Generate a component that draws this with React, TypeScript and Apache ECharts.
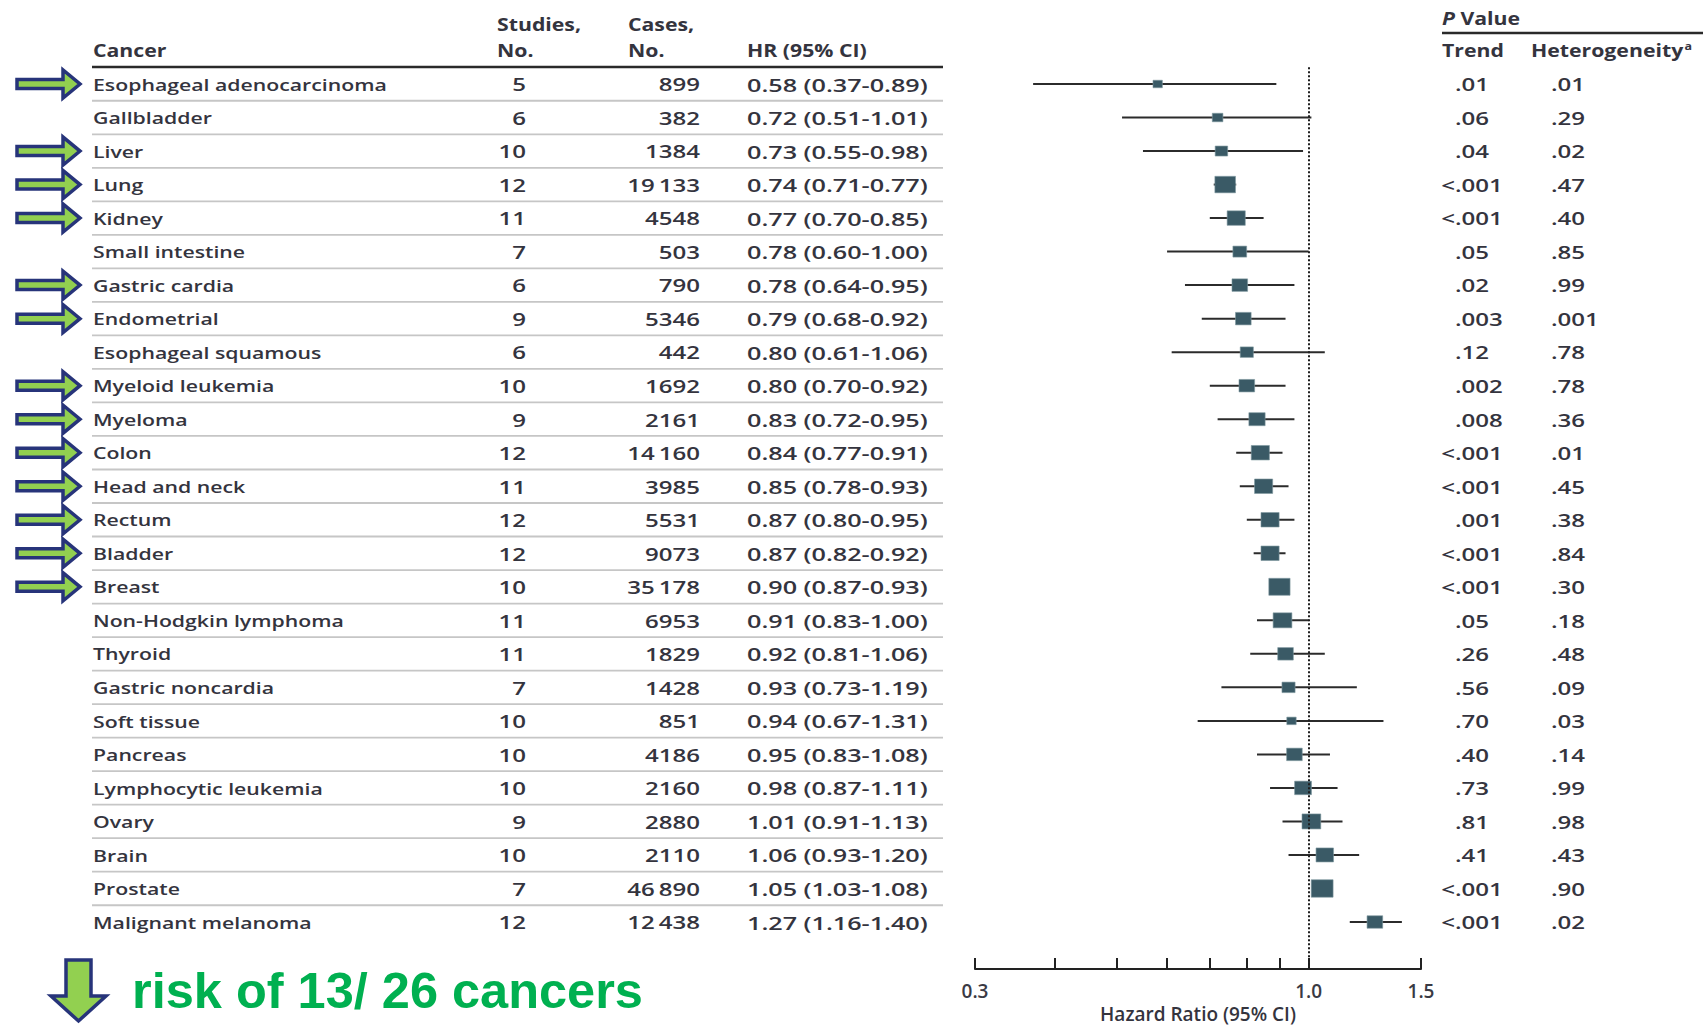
import React, { useEffect, useRef } from "react";
import * as echarts from "echarts";

// ---- data -------------------------------------------------------------
const cancers = [
  "Esophageal adenocarcinoma", "Gallbladder", "Liver", "Lung", "Kidney",
  "Small intestine", "Gastric cardia", "Endometrial", "Esophageal squamous",
  "Myeloid leukemia", "Myeloma", "Colon", "Head and neck", "Rectum", "Bladder",
  "Breast", "Non-Hodgkin lymphoma", "Thyroid", "Gastric noncardia", "Soft tissue",
  "Pancreas", "Lymphocytic leukemia", "Ovary", "Brain", "Prostate", "Malignant melanoma",
];
const studies = [5, 6, 10, 12, 11, 7, 6, 9, 6, 10, 9, 12, 11, 12, 12, 10, 11, 11, 7, 10, 10, 10, 9, 10, 7, 12];
const cases = [899, 382, 1384, 19133, 4548, 503, 790, 5346, 442, 1692, 2161, 14160, 3985, 5531, 9073, 35178, 6953, 1829, 1428, 851, 4186, 2160, 2880, 2110, 46890, 12438];
const hr = [0.58, 0.72, 0.73, 0.74, 0.77, 0.78, 0.78, 0.79, 0.80, 0.80, 0.83, 0.84, 0.85, 0.87, 0.87, 0.90, 0.91, 0.92, 0.93, 0.94, 0.95, 0.98, 1.01, 1.06, 1.05, 1.27];
const ciLow = [0.37, 0.51, 0.55, 0.71, 0.70, 0.60, 0.64, 0.68, 0.61, 0.70, 0.72, 0.77, 0.78, 0.80, 0.82, 0.87, 0.83, 0.81, 0.73, 0.67, 0.83, 0.87, 0.91, 0.93, 1.03, 1.16];
const ciHigh = [0.89, 1.01, 0.98, 0.77, 0.85, 1.00, 0.95, 0.92, 1.06, 0.92, 0.95, 0.91, 0.93, 0.95, 0.92, 0.93, 1.00, 1.06, 1.19, 1.31, 1.08, 1.11, 1.13, 1.20, 1.08, 1.40];
const pTrend = [".01", ".06", ".04", "<.001", "<.001", ".05", ".02", ".003", ".12", ".002", ".008", "<.001", "<.001", ".001", "<.001", "<.001", ".05", ".26", ".56", ".70", ".40", ".73", ".81", ".41", "<.001", "<.001"];
const pHeterogeneity = [".01", ".29", ".02", ".47", ".40", ".85", ".99", ".001", ".78", ".78", ".36", ".01", ".45", ".38", ".84", ".30", ".18", ".48", ".09", ".03", ".14", ".99", ".98", ".43", ".90", ".02"];
// relative study weight, drawn as the height of each square
const weight = [7.5, 8.5, 10, 16.5, 14.5, 11, 12.5, 12.5, 10.5, 12.5, 13, 14.5, 14.5, 14.5, 14.5, 17, 15, 12.5, 10.5, 7.5, 12.5, 13.5, 15, 14, 17.5, 12.5];
// cancers whose risk is lowered (marked with an arrow)
const lowered = [true, false, true, true, true, false, true, true, false, true, true, true, true, true, true, true, false, false, false, false, false, false, false, false, false, false];
const tickValues = [0.3, 0.4, 0.5, 0.6, 0.7, 0.8, 0.9, 1.0, 1.5];
const labelValues = [0.3, 1.0, 1.5];
const summary = "risk of 13/ 26 cancers";

// ---- styling ----------------------------------------------------------
const FONT = '"Open Sans", "Liberation Sans", sans-serif';
const INK = "#34343e";
const BOX = "#3a5a66";
const NAVY = "#27347a";
const LIME = "#92d050";

const ROW0 = 84;
const ROW_H = 33.52;
const AXIS_Y = 969;

function formatCases(n: number) {
  const s = String(n);
  return n >= 10000 ? s.slice(0, s.length - 3) + "\u2009" + s.slice(-3) : s;
}

function txt(x: number, y: number, text: string, o: any = {}) {
  return {
    type: "text",
    x,
    y,
    scaleX: o.scaleX ?? 1.25,
    silent: true,
    style: {
      text,
      fill: o.fill ?? INK,
      fontFamily: FONT,
      fontSize: o.size ?? 17,
      fontWeight: o.weight ?? 600,
      align: o.align ?? "left",
      verticalAlign: "middle",
      rich: o.rich,
    },
  };
}

const NUM = { size: 18.5, scaleX: 1.3 };
const HR_TEXT = { size: 18.5, scaleX: 1.36 };

export default function App() {
  const ref = useRef<HTMLDivElement>(null);

  useEffect(() => {
    const chart = echarts.init(ref.current!, undefined, { renderer: "svg" });
    const n = cancers.length;

    const forestData = hr.map((v, i) => [Math.log(v), Math.log(ciLow[i]), Math.log(ciHigh[i]), i, weight[i]]);
    const tableData = cancers.map((_, i) => [0, i]);

    const gridTop = ROW0 - ROW_H / 2;
    const yMax = (AXIS_Y - gridTop) / ROW_H - 0.5;

    const option: any = {
      animation: false,
      backgroundColor: "#ffffff",
      grid: {
        left: 975,
        right: 1703 - 1421,
        top: gridTop,
        bottom: 1026 - AXIS_Y,
        containLabel: false,
        outerBoundsMode: "none",
      },
      xAxis: {
        type: "value",
        min: Math.log(0.3),
        max: Math.log(1.5),
        axisLine: { onZero: false, lineStyle: { color: "#222", width: 2 } },
        axisTick: {
          inside: true,
          length: 11,
          customValues: tickValues.map(Math.log),
          lineStyle: { color: "#222", width: 2 },
        },
        axisLabel: {
          customValues: labelValues.map(Math.log),
          formatter: (v: number) => Math.exp(v).toFixed(1),
          fontFamily: FONT,
          fontSize: 19,
          fontWeight: 600,
          color: "#3a3a44",
          margin: 12,
        },
        splitLine: { show: false },
        name: "Hazard Ratio (95% CI)",
        nameLocation: "middle",
        nameGap: 34,
        nameTextStyle: { fontFamily: FONT, fontSize: 19, fontWeight: 600, color: INK },
      },
      yAxis: { type: "value", inverse: true, min: -0.5, max: yMax, show: false },
      series: [
        {
          type: "custom",
          name: "table",
          silent: true,
          data: tableData,
          encode: { x: 0, y: 1 },
          renderItem: (params: any, api: any) => {
            const i = params.dataIndex;
            const y = api.coord([0, i])[1];
            const children: any[] = [];
            children.push(txt(93, y, cancers[i]));
            children.push(txt(526, y, String(studies[i]), { ...NUM, align: "right" }));
            children.push(txt(700, y, formatCases(cases[i]), { ...NUM, align: "right" }));
            children.push(
              txt(747, y, `${hr[i].toFixed(2)} (${ciLow[i].toFixed(2)}-${ciHigh[i].toFixed(2)})`, HR_TEXT)
            );
            const t = pTrend[i];
            if (t.startsWith("<")) {
              children.push(txt(1455, y, "<", { ...NUM, align: "right" }));
              children.push(txt(1455, y, t.slice(1), NUM));
            } else {
              children.push(txt(1455, y, t, NUM));
            }
            children.push(txt(1551, y, pHeterogeneity[i], NUM));
            if (i < n - 1) {
              const yb = api.coord([0, i + 0.5])[1];
              children.push({
                type: "line",
                silent: true,
                shape: { x1: 92, y1: yb, x2: 943, y2: yb },
                style: { stroke: "#c6c6c6", lineWidth: 1.8 },
              });
            }
            if (lowered[i]) {
              children.push({
                type: "polygon",
                silent: true,
                shape: {
                  points: [
                    [17, y - 4.5], [63, y - 4.5], [63, y - 14], [80, y],
                    [63, y + 14], [63, y + 4.5], [17, y + 4.5],
                  ],
                },
                style: { fill: LIME, stroke: NAVY, lineWidth: 3.5, lineJoin: "miter" },
              });
            }
            return { type: "group", children };
          },
        },
        {
          type: "custom",
          name: "forest",
          silent: true,
          data: forestData,
          encode: { x: [0, 1, 2], y: 3 },
          renderItem: (params: any, api: any) => {
            const row = api.value(3);
            const [xc, y] = api.coord([api.value(0), row]);
            const xl = api.coord([api.value(1), row])[0];
            const xh = api.coord([api.value(2), row])[0];
            const h = api.value(4);
            const w = h * 1.25;
            return {
              type: "group",
              children: [
                {
                  type: "line",
                  shape: { x1: xl, y1: y, x2: xh, y2: y },
                  style: { stroke: "#2b2b2b", lineWidth: 2 },
                },
                {
                  type: "rect",
                  shape: { x: xc - w / 2, y: y - h / 2, width: w, height: h },
                  style: { fill: BOX, stroke: "#7f98a0", lineWidth: 0.6 },
                },
              ],
            };
          },
          markLine: {
            silent: true,
            symbol: ["none", "none"],
            label: { show: false },
            lineStyle: { color: "#1e1e1e", width: 2, type: [2, 2] },
            data: [{ xAxis: 0 }],
          },
        },
      ],
      graphic: [
        txt(93, 50, "Cancer", { weight: "bold" }),
        txt(497, 24, "Studies,", { weight: "bold" }),
        txt(497, 50, "No.", { weight: "bold" }),
        txt(628, 24, "Cases,", { weight: "bold" }),
        txt(628, 50, "No.", { weight: "bold" }),
        txt(747, 50, "HR (95% CI)", { weight: "bold" }),
        {
          type: "line",
          silent: true,
          shape: { x1: 92, y1: 67, x2: 943, y2: 67 },
          style: { stroke: "#2a2a2a", lineWidth: 2.5 },
        },
        txt(1442, 18, "{i|P} Value", {
          weight: "bold",
          rich: { i: { fontStyle: "italic", fontWeight: "bold", fontFamily: FONT, fontSize: 17, fill: INK } },
        }),
        {
          type: "line",
          silent: true,
          shape: { x1: 1442, y1: 33, x2: 1703, y2: 33 },
          style: { stroke: "#2a2a2a", lineWidth: 2.5 },
        },
        txt(1442, 50, "Trend", { weight: "bold" }),
        txt(1531, 50, "Heterogeneity{s|a}", {
          weight: "bold",
          rich: { s: { fontSize: 10, fontWeight: "bold", fontFamily: FONT, fill: INK, verticalAlign: "top", padding: [0, 0, 8, 1] } },
        }),
        {
          type: "polygon",
          silent: true,
          shape: {
            points: [
              [66, 960], [91, 960], [91, 996], [106, 996], [78.5, 1021],
              [51, 996], [66, 996],
            ],
          },
          style: { fill: LIME, stroke: NAVY, lineWidth: 3.5, lineJoin: "miter" },
        },
        {
          type: "text",
          x: 132,
          y: 990,
          silent: true,
          style: {
            text: summary,
            fill: "#00b050",
            fontFamily: '"Liberation Sans", Arial, sans-serif',
            fontWeight: "bold",
            fontSize: 50.5,
            align: "left",
            verticalAlign: "middle",
          },
        },
      ],
    };

    chart.setOption(option);
    return () => chart.dispose();
  }, []);

  return (
    <div
      ref={ref}
      style={{ position: "fixed", left: 0, top: 0, width: 1703, height: 1026, background: "#fff" }}
    />
  );
}
